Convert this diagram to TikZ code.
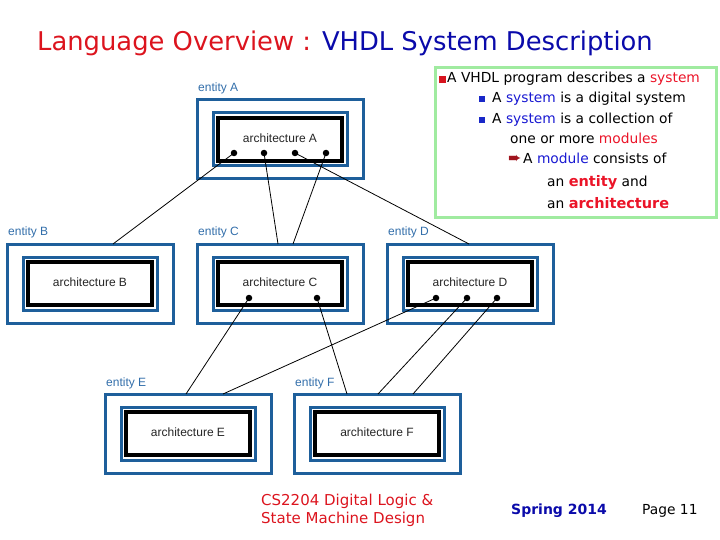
\documentclass[tikz,border=0pt]{standalone}
\usepackage{fontspec}
\setmainfont{DejaVu Sans}
\newfontfamily\arialf{Liberation Sans}
\newfontfamily\comicf{DejaVu Sans}
\definecolor{boxblue}{RGB}{30,95,155}
\definecolor{lblblue}{RGB}{50,110,170}
\definecolor{titlered}{RGB}{220,20,30}
\definecolor{titleblue}{RGB}{10,10,170}
\definecolor{kwblue}{RGB}{25,25,210}
\definecolor{kwred}{RGB}{235,20,40}
\definecolor{bulred}{RGB}{215,20,30}
\definecolor{bulblue}{RGB}{25,40,200}
\definecolor{arrred}{RGB}{160,20,30}
\definecolor{grn}{RGB}{160,235,160}
\tikzset{
  outerbox/.style={draw=boxblue, line width=3pt, fill=white, minimum width=166pt, minimum height=79pt, inner sep=0pt, outer sep=0pt, anchor=north west},
  innerbox/.style={draw=boxblue, line width=3pt, minimum width=134pt, minimum height=53pt, inner sep=0pt, outer sep=0pt, anchor=north west},
  archbox/.style={draw=black, line width=3.5pt, minimum width=124pt, minimum height=43pt, inner sep=0pt, outer sep=0pt, anchor=north west},
  archtext/.style={font=\arialf\fontsize{12}{14}\selectfont, text=black!85},
  enttext/.style={font=\arialf\fontsize{12}{14}\selectfont, text=lblblue, anchor=base west, inner sep=0pt},
  pindot/.style={circle, fill=black, minimum size=6.5pt, inner sep=0pt},
  conn/.style={draw=black, line width=0.8pt},
  bodytext/.style={font=\comicf\fontsize{13.8}{16}\selectfont, anchor=base west, inner sep=0pt},
  sqbul/.style={minimum size=6.5pt, inner sep=0pt, anchor=south west},
  foot/.style={anchor=base west, inner sep=0pt, font=\comicf\fontsize{14}{17}\selectfont},
}
\newcommand\mkentity[3]{%
  \node[outerbox] (e#1) at (#2,#3) {};
  \node[innerbox] (i#1) at (#2+16,#3+13) {};
  \node[archbox] (k#1) at (#2+21,#3+18) {};
  \node[archtext] (t#1) at (#2+83,#3+38) {architecture #1};
  \node[enttext] (l#1) at (#2+1,#3-8) {entity #1};
}
\begin{document}
\begin{tikzpicture}[x=1pt,y=-1pt]
\useasboundingbox (0,0) rectangle (720,540);
% title
\node[anchor=base west, inner sep=0pt, font=\comicf\fontsize{25.8}{29}\selectfont] (title) at (37,51)
  {\textcolor{titlered}{Language Overview :} \textcolor{titleblue}{VHDL System Description}};
% entities
\mkentity{A}{197}{100}
\mkentity{B}{7}{244}
\mkentity{C}{197}{244}
\mkentity{D}{387}{244}
\mkentity{E}{105}{394}
\mkentity{F}{294}{394}
% pins
\node[pindot] (A1) at (234,153) {};
\node[pindot] (A2) at (264,153) {};
\node[pindot] (A3) at (295,153) {};
\node[pindot] (A4) at (326,153) {};
\node[pindot] (C1) at (249,298) {};
\node[pindot] (C2) at (317,298) {};
\node[pindot] (D1) at (436,298) {};
\node[pindot] (D2) at (467,298) {};
\node[pindot] (D3) at (497,298) {};
% connector ends
\coordinate (inB) at (113,244);
\coordinate (inC1) at (278,244);
\coordinate (inC2) at (293,244);
\coordinate (inD) at (469,244);
\coordinate (inE1) at (186,394);
\coordinate (inE2) at (223,394);
\coordinate (inF1) at (347,394);
\coordinate (inF2) at (378,394);
\coordinate (inF3) at (413,394);
\draw[conn] (A1.center) -- (inB);
\draw[conn] (A2.center) -- (inC1);
\draw[conn] (A4.center) -- (inC2);
\draw[conn] (A3.center) -- (inD);
\draw[conn] (C1.center) -- (inE1);
\draw[conn] (D1.center) -- (inE2);
\draw[conn] (C2.center) -- (inF1);
\draw[conn] (D2.center) -- (inF2);
\draw[conn] (D3.center) -- (inF3);
% text box
\node[draw=grn, line width=3pt, minimum width=281pt, minimum height=150pt, anchor=north west, inner sep=0pt] (gbox) at (434,66) {};
\node[sqbul, fill=bulred] (b1) at (439,83) {};
\node[bodytext] (l1) at (447,83) {A VHDL program describes a \textcolor{kwred}{system}};
\node[sqbul, fill=bulblue, minimum size=6pt] (b2) at (479,102) {};
\node[bodytext] (l2) at (492,103) {A \textcolor{kwblue}{system} is a digital system};
\node[sqbul, fill=bulblue, minimum size=6pt] (b3) at (479,123) {};
\node[bodytext] (l3) at (492,124) {A \textcolor{kwblue}{system} is a collection of};
\node[bodytext] (l4) at (510,144) {one or more \textcolor{kwred}{modules}};
\node[bodytext, text=arrred, font=\comicf\fontsize{16}{18}\selectfont] (b5) at (508,164) {➨};
\node[bodytext] (l5) at (523,164) {A \textcolor{kwblue}{module} consists of};
\node[bodytext] (l6) at (547,187) {an \textcolor{kwred}{\bfseries\fontsize{14.5}{16}\selectfont entity} and};
\node[bodytext] (l7) at (547,208) {an \textcolor{kwred}{\bfseries\fontsize{14.5}{16}\selectfont architecture}};
% footer
\node[foot, text=titlered, font=\comicf\fontsize{15}{18}\selectfont] (f1) at (261,505) {CS2204 Digital Logic \&};
\node[foot, text=titlered, font=\comicf\fontsize{15}{18}\selectfont] (f1b) at (261,523) {State Machine Design};
\node[foot, text=titleblue, font=\comicf\bfseries\fontsize{14}{17}\selectfont] (f2) at (511,514) {Spring 2014};
\node[foot, text=black, font=\comicf\fontsize{13.8}{17}\selectfont] (f3) at (642,514) {Page 11};
\end{tikzpicture}
\end{document}
